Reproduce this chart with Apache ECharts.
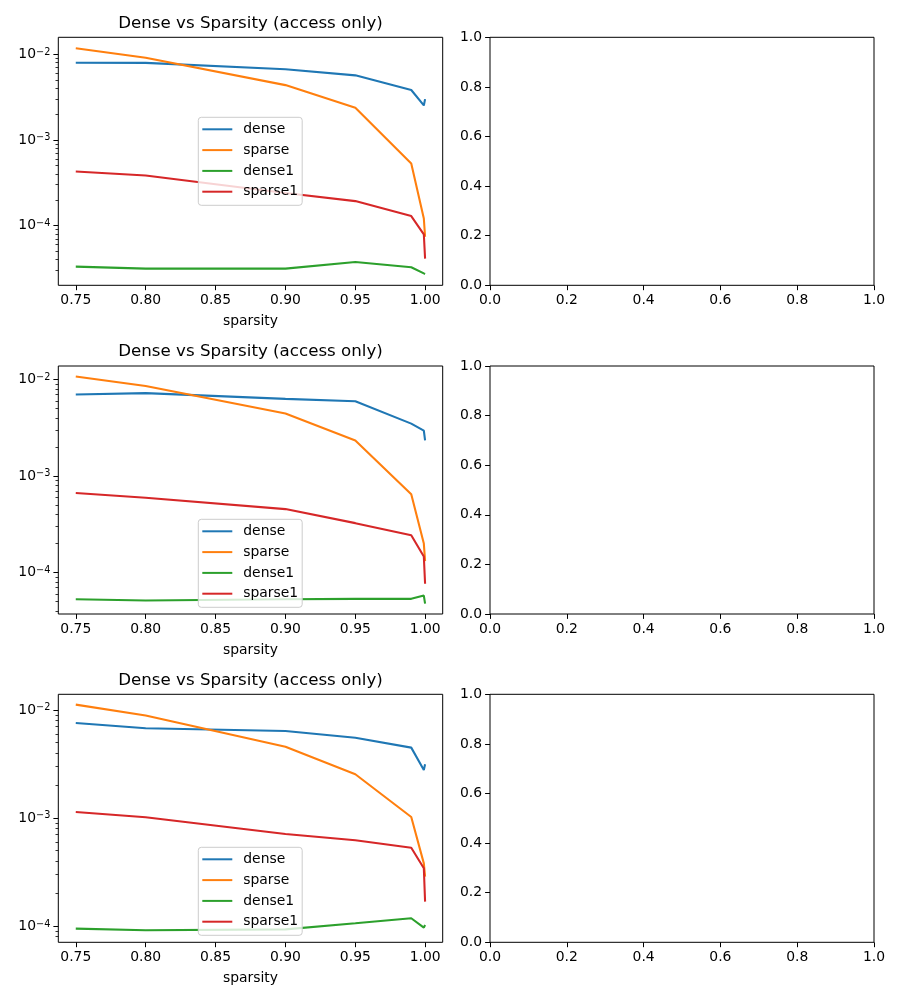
<!DOCTYPE html>
<html><head><meta charset="utf-8">
<script src="https://cdn.jsdelivr.net/npm/echarts@6/dist/echarts.min.js"></script>
<style>html,body{margin:0;padding:0;background:#fff}#c{width:900px;height:1000px}</style>
</head><body><div id="c"></div><script>
// ---------- data ----------
const sparsity = [0.75, 0.8, 0.9, 0.95, 0.99, 0.999, 0.9999];
const seriesNames = ['dense', 'sparse', 'dense1', 'sparse1'];
const titleText = 'Dense vs Sparsity (access only)';
const xLabelText = 'sparsity';
const xTickValues = [0.75, 0.8, 0.85, 0.9, 0.95, 1.0];
const emptyTickValues = [0, 0.2, 0.4, 0.6, 0.8, 1.0];

const p1Dense   = [7.99e-3, 7.95e-3, 6.68e-3, 5.68e-3, 3.83e-3, 2.53e-3, 3.0e-3];
const p1Sparse  = [1.175e-2, 9.14e-3, 4.37e-3, 2.38e-3, 5.31e-4, 1.21e-4, 7.4e-5];
const p1Dense1  = [3.31e-5, 3.14e-5, 3.14e-5, 3.76e-5, 3.26e-5, 2.76e-5, 2.72e-5];
const p1Sparse1 = [4.28e-4, 3.85e-4, 2.4e-4, 1.93e-4, 1.29e-4, 7.9e-5, 4.11e-5];

const p2Dense   = [6.98e-3, 7.21e-3, 6.29e-3, 5.94e-3, 3.48e-3, 2.94e-3, 2.33e-3];
const p2Sparse  = [1.074e-2, 8.53e-3, 4.43e-3, 2.33e-3, 6.44e-4, 1.99e-4, 1.31e-4];
const p2Dense1  = [5.27e-5, 5.11e-5, 5.27e-5, 5.32e-5, 5.32e-5, 5.75e-5, 4.75e-5];
const p2Sparse1 = [6.65e-4, 5.95e-4, 4.53e-4, 3.24e-4, 2.43e-4, 1.46e-4, 7.62e-5];

const p3Dense   = [7.58e-3, 6.76e-3, 6.39e-3, 5.54e-3, 4.48e-3, 2.78e-3, 3.14e-3];
const p3Sparse  = [1.12e-2, 8.87e-3, 4.57e-3, 2.54e-3, 1.02e-3, 3.8e-4, 2.86e-4];
const p3Dense1  = [9.45e-5, 9.12e-5, 9.31e-5, 1.06e-4, 1.18e-4, 9.66e-5, 1.02e-4];
const p3Sparse1 = [1.137e-3, 1.015e-3, 7.11e-4, 6.21e-4, 5.31e-4, 3.42e-4, 1.68e-4];

const panels = [
  [p1Dense, p1Sparse, p1Dense1, p1Sparse1],
  [p2Dense, p2Sparse, p2Dense1, p2Sparse1],
  [p3Dense, p3Sparse, p3Dense1, p3Sparse1]
];
// ---------- layout / style ----------
const yLogMin = [-4.698, -4.431, -4.151];
const yLogMax = [-1.801, -1.861, -1.855];
const colors = ['#1f77b4', '#ff7f0e', '#2ca02c', '#d62728'];
const FONT = 'DejaVu Sans';
const FS = 13.9;
const rowTops = [37.3, 366, 694.3];
const rowH = 248;
const leftX = 58.3, leftW = 384.4, rightX = 490, rightW = 384;
const legendTops = [117.3, 519.3, 847.3];

const chart = echarts.init(document.getElementById('c'), null, {renderer: 'canvas'});

const grids = [], xAxes = [], yAxes = [], series = [], titles = [], legends = [];
function majorLogTicks(lo, hi) {
  const out = [];
  for (let e = -8; e <= 2; e++) { const v = Math.pow(10, e); if (v >= lo && v <= hi) out.push(v); }
  return out;
}
function minorLogTicks(lo, hi) {
  const out = [];
  for (let e = -8; e <= 2; e++) for (let m = 2; m <= 9; m++) {
    const v = m * Math.pow(10, e); if (v >= lo && v <= hi) out.push(v);
  }
  return out;
}
const baseLabel = {color: '#000', fontFamily: FONT, fontSize: FS};
rowTops.forEach((top, r) => {
  const gL = grids.length;
  grids.push({left: leftX, top: top, width: leftW, height: rowH, show: true,
    borderColor: '#000', borderWidth: 1, backgroundColor: 'transparent', containLabel: false});
  const gR = grids.length;
  grids.push({left: rightX, top: top, width: rightW, height: rowH, show: true,
    borderColor: '#000', borderWidth: 1, backgroundColor: 'transparent', containLabel: false});

  const lo = Math.pow(10, yLogMin[r]), hi = Math.pow(10, yLogMax[r]);
  // left x axis
  const xL = xAxes.length;
  xAxes.push({type: 'value', gridIndex: gL, min: 0.7375, max: 1.0125,
    axisLine: {show: false}, splitLine: {show: false},
    axisTick: {show: true, length: 4.9, customValues: xTickValues, lineStyle: {color: '#000', width: 1}},
    axisLabel: Object.assign({margin: 8, customValues: xTickValues,
      formatter: v => v.toFixed(2)}, baseLabel),
    name: xLabelText, nameLocation: 'middle', nameGap: 29,
    nameTextStyle: {color: '#000', fontFamily: FONT, fontSize: FS}
  });
  // left y axis (major)
  const yL = yAxes.length;
  yAxes.push({type: 'log', logBase: 10, gridIndex: gL, position: 'left', min: lo, max: hi,
    axisLine: {show: false}, splitLine: {show: false},
    axisTick: {show: true, length: 4.9, customValues: majorLogTicks(lo, hi), lineStyle: {color: '#000', width: 1}},
    axisLabel: {margin: 8, customValues: majorLogTicks(lo, hi), color: '#000', fontFamily: FONT,
      formatter: v => '{b|10}{s|\u2212' + (-Math.round(Math.log10(v))) + '}',
      rich: {
        b: {fontSize: FS, fontFamily: FONT, color: '#000', lineHeight: 14, padding: [3, 0, 0, 0], verticalAlign: 'bottom'},
        s: {fontSize: 9.7, fontFamily: FONT, color: '#000', lineHeight: 10, verticalAlign: 'top'}
      }}
  });
  // left y axis (minor ticks only)
  yAxes.push({type: 'log', logBase: 10, gridIndex: gL, position: 'left', min: lo, max: hi,
    axisLine: {show: false}, splitLine: {show: false}, axisLabel: {show: false},
    axisTick: {show: true, length: 2.8, customValues: minorLogTicks(lo, hi), lineStyle: {color: '#000', width: 0.8}}
  });
  // right empty axes
  xAxes.push({type: 'value', gridIndex: gR, min: 0, max: 1, interval: 0.2,
    axisLine: {show: false}, splitLine: {show: false},
    axisTick: {show: true, length: 4.9, lineStyle: {color: '#000', width: 1}},
    axisLabel: Object.assign({margin: 8, formatter: v => v.toFixed(1)}, baseLabel)
  });
  yAxes.push({type: 'value', gridIndex: gR, min: 0, max: 1, interval: 0.2,
    axisLine: {show: false}, splitLine: {show: false},
    axisTick: {show: true, length: 4.9, lineStyle: {color: '#000', width: 1}},
    axisLabel: Object.assign({margin: 8, formatter: v => v.toFixed(1)}, baseLabel)
  });

  panels[r].forEach((vals, k) => {
    series.push({type: 'line', name: seriesNames[k], xAxisIndex: xL, yAxisIndex: yL,
      data: sparsity.map((x, i) => [x, vals[i]]),
      showSymbol: false, symbol: 'none', color: colors[k],
      lineStyle: {width: 2.08, color: colors[k]}, itemStyle: {color: colors[k]},
      silent: true, animation: false, z: 2 + k * 0.01});
  });

  titles.push({text: titleText, left: leftX + leftW / 2, textAlign: 'center', top: top - 23, padding: 0,
    textStyle: {fontFamily: FONT, fontSize: 16.67, fontWeight: 'normal', color: '#000', lineHeight: 18}});

  legends.push({orient: 'vertical', left: 198.3, top: legendTops[r], data: seriesNames.slice(),
    icon: 'rect', itemWidth: 30, itemHeight: 2, itemGap: 6.8,
    padding: [5, 4, 6.6, 4], backgroundColor: 'rgba(255,255,255,0.8)',
    borderColor: '#cccccc', borderWidth: 1, borderRadius: 3, selectedMode: false,
    textStyle: {fontFamily: FONT, fontSize: FS, color: '#000', lineHeight: 14, padding: [0, 0, 0, 6]}});
});

chart.setOption({
  animation: false,
  backgroundColor: '#fff',
  title: titles, legend: legends, grid: grids, xAxis: xAxes, yAxis: yAxes, series: series
});
</script></body></html>
